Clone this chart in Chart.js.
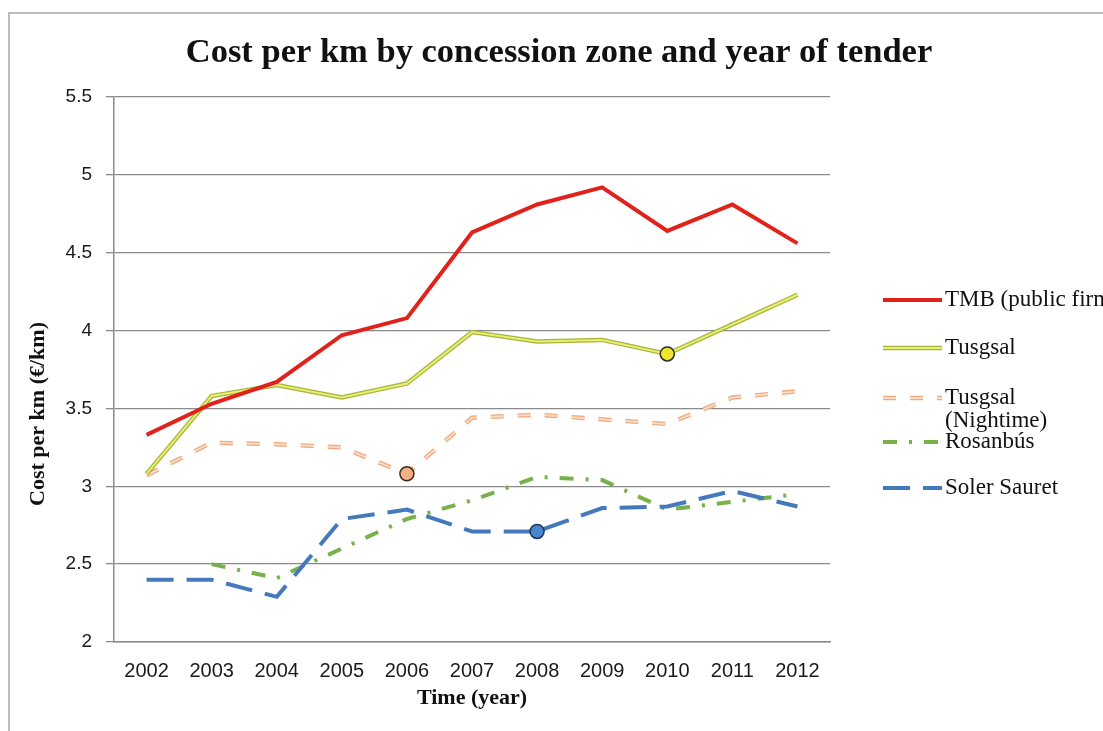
<!DOCTYPE html>
<html>
<head>
<meta charset="utf-8">
<script src="https://cdn.jsdelivr.net/npm/chart.js@4.4.1/dist/chart.umd.min.js"></script>
<style>
  html, body { margin: 0; padding: 0; background: #fff; overflow: hidden; }
</style>
</head>
<body>
<canvas id="chart" width="1103" height="731"></canvas>
<script>
var years = ['2002', '2003', '2004', '2005', '2006', '2007', '2008', '2009', '2010', '2011', '2012'];
var tmb = [3.33, 3.53, 3.67, 3.97, 4.08, 4.63, 4.81, 4.92, 4.64, 4.81, 4.56];
var tusgsal = [3.08, 3.58, 3.65, 3.57, 3.66, 3.99, 3.93, 3.94, 3.85, 4.04, 4.23];
var tusgsalNight = [3.07, 3.28, 3.27, 3.25, 3.08, 3.44, 3.46, 3.43, 3.40, 3.57, 3.61];
var rosanbus = [null, 2.50, 2.41, 2.60, 2.79, 2.91, 3.06, 3.04, 2.85, 2.90, 2.95];
var solerSauret = [2.40, 2.40, 2.29, 2.79, 2.85, 2.71, 2.71, 2.86, 2.87, 2.97, 2.87];
// years that carry a round marker in the original
var markTusgsal = '2010';
var markNight = '2006';
var markSoler = '2008';

var serif = '"Liberation Serif", "Times New Roman", serif';
var sans = '"Liberation Sans", Arial, sans-serif';

function markAt(year) {
  return function (c) { return years[c.dataIndex] === year ? 7 : 0; };
}

// frame, title, y axis title and the legend are drawn by hand
var decor = {
  id: 'decor',
  beforeDraw: function (chart) {
    var ctx = chart.ctx;
    ctx.save();
    ctx.fillStyle = '#fff';
    ctx.fillRect(0, 0, chart.width, chart.height);
    ctx.strokeStyle = '#a6a6a6';
    ctx.lineWidth = 1.5;
    ctx.beginPath();
    ctx.moveTo(9, chart.height);
    ctx.lineTo(9, 13);
    ctx.lineTo(chart.width, 13);
    ctx.stroke();
    ctx.restore();
  },
  afterDraw: function (chart) {
    var ctx = chart.ctx;
    var ds = chart.data.datasets;
    ctx.save();
    ctx.fillStyle = '#111';
    ctx.textAlign = 'center';
    ctx.textBaseline = 'alphabetic';
    ctx.font = 'bold 34.5px ' + serif;
    ctx.fillText('Cost per km by concession zone and year of tender', 559, 62);

    ctx.save();
    ctx.translate(38, 414);
    ctx.rotate(-Math.PI / 2);
    ctx.textBaseline = 'middle';
    ctx.font = 'bold 22px ' + serif;
    ctx.fillText('Cost per km (\u20ac/km)', 0, 0);
    ctx.restore();

    var items = [
      { text: ['TMB (public firm)'], y: 300, layers: [0] },
      { text: ['Tusgsal'], y: 348, layers: [2, 1] },
      { text: ['Tusgsal', '(Nightime)'], y: 398, layers: [6, 5] },
      { text: ['Rosanb\u00fas'], y: 442, layers: [4] },
      { text: ['Soler Sauret'], y: 488, layers: [3] }
    ];
    ctx.font = '23px ' + serif;
    ctx.textAlign = 'left';
    ctx.textBaseline = 'middle';
    items.forEach(function (it) {
      it.layers.forEach(function (i) {
        var d = ds[i];
        ctx.strokeStyle = d.borderColor;
        ctx.lineWidth = d.borderWidth;
        ctx.setLineDash(d.borderDash || []);
        ctx.lineCap = 'butt';
        ctx.beginPath();
        ctx.moveTo(883, it.y);
        ctx.lineTo(942, it.y);
        ctx.stroke();
      });
      ctx.setLineDash([]);
      it.text.forEach(function (t, k) {
        ctx.fillText(t, 945, it.y + k * 23);
      });
    });
    ctx.restore();
  }
};

new Chart(document.getElementById('chart').getContext('2d'), {
  type: 'line',
  data: {
    labels: years,
    datasets: [
      {
        label: 'TMB (public firm)', data: tmb, order: 1,
        borderColor: '#e1221c', borderWidth: 4, pointRadius: 0, tension: 0
      },
      {
        label: 'Tusgsal', data: tusgsal, order: 2,
        borderColor: '#e6ee74', borderWidth: 2,
        pointRadius: markAt(markTusgsal), pointBackgroundColor: '#efe52a',
        pointBorderColor: '#2b2b2b', pointBorderWidth: 1.5
      },
      {
        label: 'Tusgsal outline', data: tusgsal, order: 3,
        borderColor: '#a8b43c', borderWidth: 4.5, pointRadius: 0
      },
      {
        label: 'Soler Sauret', data: solerSauret, order: 4,
        borderColor: '#4479bb', borderWidth: 4, borderDash: [27, 13],
        pointRadius: markAt(markSoler), pointBackgroundColor: '#4a86cc',
        pointBorderColor: '#1d3557', pointBorderWidth: 1.5
      },
      {
        label: 'Rosanb\u00fas', data: rosanbus, order: 5,
        borderColor: '#78b04a', borderWidth: 4, borderDash: [14, 12, 3, 12],
        pointRadius: 0
      },
      {
        label: 'Tusgsal (Nightime)', data: tusgsalNight, order: 6,
        borderColor: '#fbddc9', borderWidth: 1.8, borderDash: [13, 14],
        pointRadius: markAt(markNight), pointBackgroundColor: '#f4b084',
        pointBorderColor: '#3a2a20', pointBorderWidth: 1.5
      },
      {
        label: 'Tusgsal (Nightime) outline', data: tusgsalNight, order: 7,
        borderColor: '#efab80', borderWidth: 4.4, borderDash: [13, 14],
        pointRadius: 0
      }
    ]
  },
  options: {
    responsive: false,
    animation: false,
    events: [],
    layout: { padding: { left: 10, right: 273, top: 97, bottom: 0 } },
    plugins: {
      legend: { display: false },
      title: { display: false },
      tooltip: { enabled: false }
    },
    scales: {
      x: {
        offset: true,
        grid: { display: false, drawTicks: false },
        border: { display: true, color: '#8a8a8a', width: 1.5 },
        ticks: {
          color: '#1a1a1a', padding: 17, maxRotation: 0, autoSkip: false,
          font: { family: sans, size: 20 }
        },
        title: {
          display: true, text: 'Time (year)', color: '#111',
          font: { family: serif, size: 22, weight: 'bold' },
          padding: { top: 0, bottom: 19 }
        },
        afterFit: function (s) { s.height = 89; }
      },
      y: {
        min: 2, max: 5.5,
        grid: { color: '#8a8a8a', lineWidth: 1.3, tickLength: 8 },
        border: { display: true, color: '#8a8a8a', width: 1.5 },
        ticks: {
          stepSize: 0.5, color: '#1a1a1a', padding: 14,
          font: { family: sans, size: 19 },
          callback: function (v) { return String(v); }
        },
        afterFit: function (s) { s.width = 104; }
      }
    }
  },
  plugins: [decor]
});
</script>
</body>
</html>
